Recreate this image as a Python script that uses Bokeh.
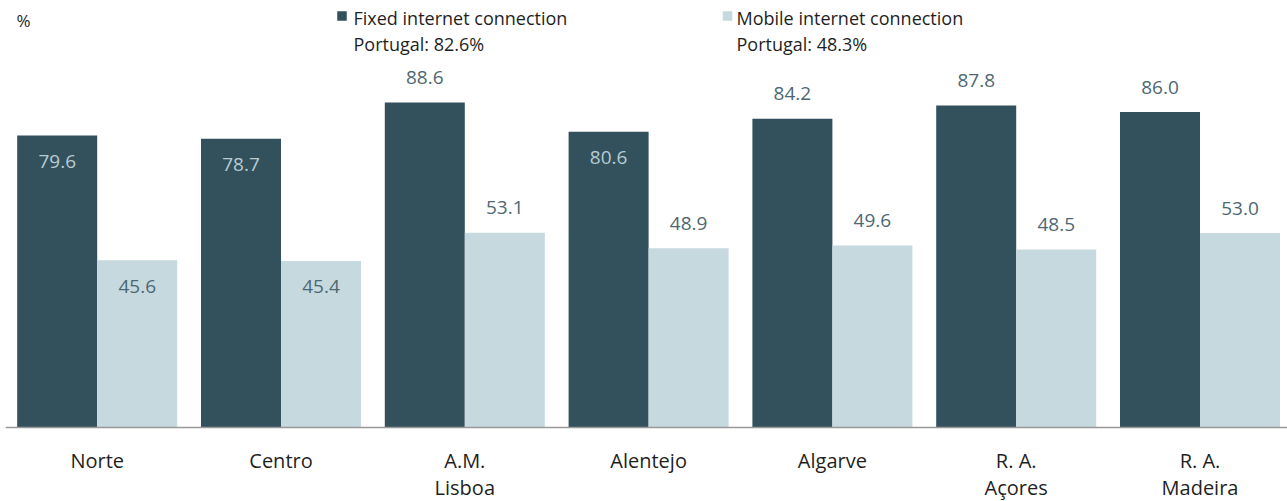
from bokeh.plotting import figure
from bokeh.models import Range1d, ColumnDataSource, Span
from bokeh.core.properties import value
from bokeh.embed import file_html
from bokeh.resources import INLINE

# ---- data ----
regions = ["Norte", "Centro", "A.M.\nLisboa", "Alentejo", "Algarve", "R. A.\nAçores", "R. A.\nMadeira"]
fixed = [79.6, 78.7, 88.6, 80.6, 84.2, 87.8, 86.0]
mobile = [45.6, 45.4, 53.1, 48.9, 49.6, 48.5, 53.0]
series_names = ["Fixed internet connection", "Mobile internet connection"]
portugal = [82.6, 48.3]
unit_label = "%"
# label placement (inside / outside the bar), as in the reference
fixed_place = ["in", "in", "out", "in", "out", "out", "out"]
mobile_place = ["in", "in", "out", "out", "out", "out", "out"]

# ---- style ----
DARK = "#33515d"
LIGHT = "#c6d9df"
LBL_ON_DARK = "#b8cbd2"
LBL_OUT = "#4e6873"
TXT = "#1f1f1f"
FONT = "Open Sans"

W, H = 1287, 501
LEFT = 5
AXIS_PX = 427          # pixel row of the value-0 baseline
PX_PER_UNIT = 3.668
GROUP_PX = 183.8
frame_w = W - LEFT
x_start = -(96.7 - LEFT) / GROUP_PX
x_end = x_start + frame_w / GROUP_PX
px_x = GROUP_PX
y_end = AXIS_PX / PX_PER_UNIT
y_start = -(H - AXIS_PX) / PX_PER_UNIT
px_y = PX_PER_UNIT

p = figure(width=W, height=H, output_backend="svg", toolbar_location=None,
           x_range=Range1d(x_start, x_end), y_range=Range1d(y_start, y_end),
           min_border_left=LEFT, min_border_right=0, min_border_top=0,
           min_border_bottom=0, x_axis_location=None, y_axis_location=None)
p.outline_line_color = None
p.xgrid.visible = False
p.ygrid.visible = False
p.background_fill_color = "white"
p.border_fill_color = "white"

idx = list(range(len(regions)))
bw = 80 / px_x
src = ColumnDataSource(dict(
    xf=[i - bw / 2 for i in idx], xm=[i + bw / 2 for i in idx],
    fixed=fixed, mobile=mobile,
))
p.vbar(x="xf", top="fixed", width=bw, bottom=0, source=src, fill_color=DARK, line_color=None)
p.vbar(x="xm", top="mobile", width=bw, bottom=0, source=src, fill_color=LIGHT, line_color=None)

# baseline (category axis line)
p.add_layout(Span(location=0, dimension="width", line_color="#999999", line_width=1.6))

# value labels
def labels(xs, vals, places, in_color):
    for pl, col, off in (("in", in_color, 26), ("out", LBL_OUT, -25)):
        sel = [k for k in idx if places[k] == pl]
        if not sel:
            continue
        p.text(x=[xs[k] for k in sel], y=[vals[k] for k in sel],
               text=[f"{vals[k]:.1f}" for k in sel], y_offset=off,
               text_align="center", text_baseline="middle",
               text_font=value(FONT), text_font_size="19px", text_color=col)

labels(src.data["xf"], fixed, fixed_place, LBL_ON_DARK)
labels(src.data["xm"], mobile, mobile_place, LBL_OUT)

# category labels (one or two lines each)
line1 = [r.split("\n")[0] for r in regions]
line2 = [r.split("\n")[1] if "\n" in r else "" for r in regions]
for lines, off in ((line1, 33), (line2, 60)):
    p.text(x=idx, y=[0] * len(idx), text=lines, y_offset=off,
           text_align="center", text_baseline="middle",
           text_font=value(FONT), text_font_size="20px", text_color=TXT)

# legend (manual) and unit label
def px2x(px):
    return x_start + (px - LEFT) / px_x

def px2y(py):
    return y_end - py / px_y

sq_x = [341.5, 727.0]
tx_x = [353, 736]
for k in range(2):
    p.rect(x=[px2x(sq_x[k])], y=[px2y(15.5)], width=9.5, height=9.5,
           width_units="screen", height_units="screen",
           fill_color=[DARK, LIGHT][k], line_color=None)
    p.text(x=[px2x(tx_x[k])], y=[px2y(17)], text=[series_names[k]],
           text_font=value(FONT), text_font_size="18px", text_color=TXT,
           text_baseline="alphabetic")
    p.text(x=[px2x(tx_x[k])], y=[px2y(43)], text=[f"Portugal: {portugal[k]}%"],
           text_font=value(FONT), text_font_size="18px", text_color=TXT,
           text_baseline="alphabetic")

p.text(x=[px2x(16)], y=[px2y(20)], text=[unit_label], text_font=value(FONT),
       text_font_size="17px", text_color=TXT, text_baseline="alphabetic")

open("out.html", "w").write(file_html(p, INLINE))
